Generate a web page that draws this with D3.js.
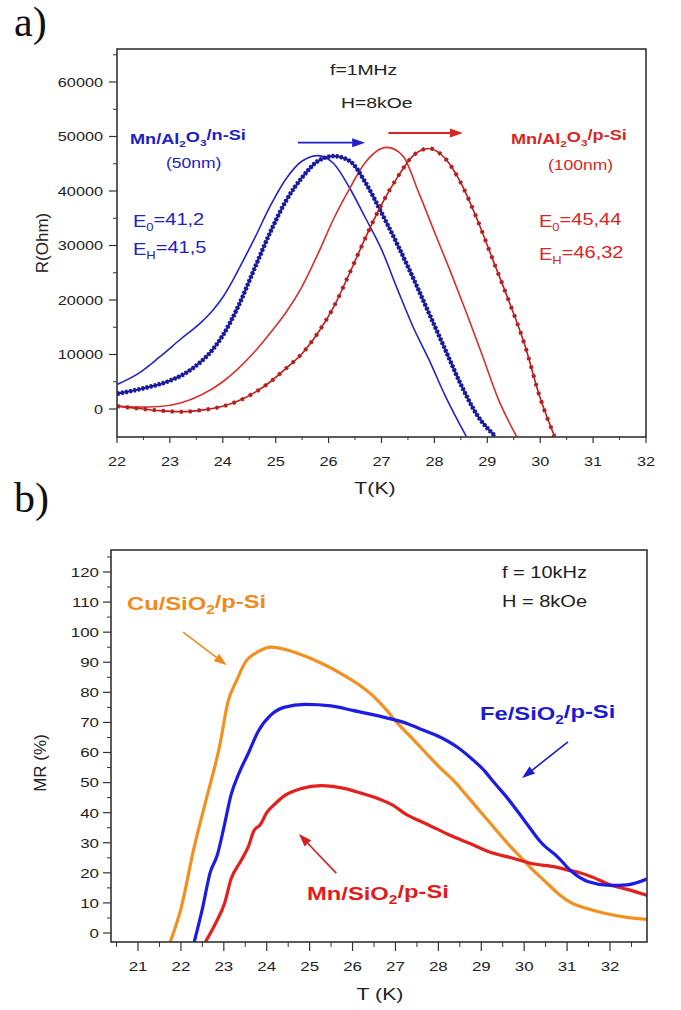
<!DOCTYPE html>
<html>
<head>
<meta charset="utf-8">
<script src="https://cdn.jsdelivr.net/npm/d3@7"></script>
<style>
  html, body { margin: 0; padding: 0; background: #fff; }
  svg { display: block; font-family: "Liberation Sans", Arial, sans-serif; }
</style>
</head>
<body>
<svg id="chart" width="681" height="1010"></svg>
<script>
// panel a: R(Ohm) vs T(K), f=1MHz, H=8kOe
const aXTicks = [22, 23, 24, 25, 26, 27, 28, 29, 30, 31, 32];
const aYTicks = [0, 10000, 20000, 30000, 40000, 50000, 60000];

// [T, R]
const nSiH = [[22, 4500], [22.4, 6500], [22.8, 9500], [23.2, 12800], [23.6, 16000], [23.8, 18000],
  [24, 20500], [24.2, 23800], [24.4, 27500], [24.6, 31300], [24.9, 37300], [25.2, 42300],
  [25.5, 45500], [25.8, 46500], [26.1, 45000], [26.4, 40500], [26.7, 35000], [27, 29300],
  [27.3, 22000], [27.6, 15000], [27.9, 9000], [28.2, 2500], [28.6, -5000]];
const nSi0 = [[22, 2800], [22.5, 3800], [23, 5200], [23.3, 6600], [23.6, 8800], [23.8, 10800],
  [24, 13500], [24.3, 19000], [24.6, 25800], [24.9, 32500], [25.2, 38300], [25.5, 42500],
  [25.8, 45500], [26.1, 46400], [26.4, 45500], [26.7, 41500], [27, 36000], [27.3, 30200],
  [27.6, 24000], [27.9, 17500], [28.2, 11000], [28.5, 4500], [28.8, -1000], [29.15, -5000]];
const pSiH = [[22, 550], [22.4, 350], [22.8, 450], [23.2, 1100], [23.6, 2600], [24, 5000],
  [24.3, 7500], [24.6, 10500], [24.9, 14000], [25.2, 17800], [25.5, 22500], [25.8, 28500],
  [26.1, 35000], [26.4, 40500], [26.7, 45300], [27.1, 48000], [27.4, 46500], [27.7, 39800],
  [28, 32500], [28.3, 25300], [28.6, 17800], [28.9, 10000], [29.2, 2000], [29.55, -5000]];
const pSi0 = [[22, 500], [22.4, 100], [22.8, -300], [23.2, -500], [23.6, -200], [24, 500],
  [24.3, 1500], [24.6, 3000], [24.9, 5000], [25.2, 7500], [25.5, 10200], [25.8, 14000],
  [26.1, 18800], [26.4, 25000], [26.7, 31500], [27, 37500], [27.3, 42500], [27.6, 46500],
  [27.9, 47800], [28.2, 46000], [28.5, 41500], [28.8, 35000], [29.1, 27500], [29.4, 20000],
  [29.7, 12000], [30, 2000], [30.27, -5000]];

// panel b: MR(%) vs T(K), f=10kHz, H=8kOe
const bXTicks = [21, 22, 23, 24, 25, 26, 27, 28, 29, 30, 31, 32];
const bYTicks = [0, 10, 20, 30, 40, 50, 60, 70, 80, 90, 100, 110, 120];

const cuMR = [[21.75, -3], [22, 8], [22.3, 28], [22.6, 45], [22.9, 62], [23.1, 77], [23.3, 84],
  [23.5, 90], [23.8, 93.5], [24.1, 95], [24.5, 94], [24.9, 92], [25.3, 89.5], [25.7, 86.5],
  [26.1, 83], [26.5, 78.5], [26.8, 74], [27, 70.5], [27.3, 66], [27.7, 60], [28, 55.5],
  [28.4, 50], [28.7, 45], [29, 40], [29.3, 35], [29.6, 30], [29.9, 25.5], [30.2, 21],
  [30.5, 17], [30.8, 13], [31.1, 10], [31.5, 8], [31.9, 6.5], [32.4, 5.2], [32.87, 4.5]];
const feMR = [[22.31, -3], [22.5, 8], [22.68, 20], [22.85, 26], [23, 35], [23.17, 46],
  [23.35, 53], [23.58, 60], [23.8, 67], [24.1, 72.5], [24.4, 75], [24.9, 76], [25.5, 75.5],
  [26, 74], [26.5, 72.5], [26.94, 71], [27.3, 69.5], [27.55, 68], [28.06, 65], [28.47, 61.5],
  [28.77, 58], [29.07, 54], [29.3, 50], [29.6, 45], [30, 37.5], [30.4, 30], [30.8, 25],
  [31.1, 20.5], [31.5, 17], [32, 15.8], [32.4, 16], [32.87, 18]];
const mnMR = [[22.57, -3], [22.8, 3], [23.02, 10], [23.17, 18], [23.4, 24], [23.58, 29],
  [23.7, 34], [23.85, 36], [24, 40], [24.2, 43], [24.4, 45.5], [24.8, 48], [25.27, 49],
  [25.83, 48], [26.2, 46.5], [26.54, 45], [26.94, 42.5], [27.24, 39.5], [27.76, 36],
  [28.27, 32.5], [28.78, 29.5], [29.18, 27], [29.7, 25], [30.2, 23], [30.72, 22], [31, 21],
  [31.3, 20], [31.6, 18.5], [32, 16], [32.4, 14.5], [32.87, 12.5]];

const SX = 1.25; // the picture is stretched sideways
const svg = d3.select("#chart");

const aBox = { left: 117, right: 646, top: 49, bottom: 437 };
const bBox = { left: 111, right: 647, top: 550, bottom: 942 };
const aX = d3.scaleLinear().domain([22, 32]).range([117, 646]);
const aY = d3.scaleLinear().domain([0, 60000]).range([409, 82]);
const bX = d3.scaleLinear().domain([21, 32]).range([138, 610]);
const bY = d3.scaleLinear().domain([0, 120]).range([933, 572]);

// text with subscripts: parts = [[str, isSub], ...]
function richText(g, x, y, parts, opt) {
  const t = g.append("text")
    .attr("transform", `translate(${x},${y}) scale(${opt.sx || SX},1)`)
    .attr("font-size", opt.size)
    .attr("font-weight", opt.bold ? "bold" : "normal")
    .attr("fill", opt.color || "#222")
    .attr("text-anchor", opt.anchor || "start");
  let down = false;
  parts.forEach(([s, sub]) => {
    const sp = t.append("tspan").text(s);
    if (sub && !down) { sp.attr("dy", "0.35em").attr("font-size", opt.size * 0.65); down = true; }
    else if (!sub && down) { sp.attr("dy", "-0.35em"); down = false; }
    else if (sub) sp.attr("font-size", opt.size * 0.65);
  });
  return t;
}

function arrow(g, x1, y1, x2, y2, color, width) {
  const ang = Math.atan2(y2 - y1, x2 - x1);
  const len = 13, half = 4.5;
  const bx = x2 - len * Math.cos(ang), by = y2 - len * Math.sin(ang);
  g.append("line").attr("x1", x1).attr("y1", y1).attr("x2", bx).attr("y2", by)
    .attr("stroke", color).attr("stroke-width", width);
  g.append("path")
    .attr("d", `M${x2},${y2} L${bx - half * Math.sin(ang)},${by + half * Math.cos(ang)} L${bx + half * Math.sin(ang)},${by - half * Math.cos(ang)} Z`)
    .attr("fill", color);
}

function drawAxes(g, box, x, y, xt, yt, xMinor, yMinor, o) {
  // y ticks
  yMinor.forEach((v) => {
    g.append("line").attr("x1", box.left - o.yMinorLen).attr("x2", box.left)
      .attr("y1", y(v)).attr("y2", y(v)).attr("stroke", "#333").attr("stroke-width", 1);
  });
  yt.forEach((v) => {
    g.append("line").attr("x1", box.left - o.yMajorLen).attr("x2", box.left)
      .attr("y1", y(v)).attr("y2", y(v)).attr("stroke", "#333").attr("stroke-width", 1.2);
    richText(g, o.yLabelRight, y(v) + o.tickSize * 0.36, [[String(v)]], { size: o.tickSize, anchor: "end", color: "#222" });
  });
  // x ticks
  xMinor.forEach((v) => {
    g.append("line").attr("x1", x(v)).attr("x2", x(v))
      .attr("y1", box.bottom).attr("y2", box.bottom + o.xMinorLen).attr("stroke", "#333").attr("stroke-width", 1);
  });
  xt.forEach((v) => {
    g.append("line").attr("x1", x(v)).attr("x2", x(v))
      .attr("y1", box.bottom).attr("y2", box.bottom + o.xMajorLen).attr("stroke", "#333").attr("stroke-width", 1.2);
    richText(g, x(v), o.xLabelBase, [[String(v)]], { size: o.tickSize, anchor: "middle", color: "#222" });
  });
  g.append("rect").attr("x", box.left).attr("y", box.top)
    .attr("width", box.right - box.left).attr("height", box.bottom - box.top)
    .attr("fill", "none").attr("stroke", "#333").attr("stroke-width", 1.6);
}

function clip(id, box) {
  svg.append("defs").append("clipPath").attr("id", id).append("rect")
    .attr("x", box.left).attr("y", box.top)
    .attr("width", box.right - box.left).attr("height", box.bottom - box.top);
}
clip("clipA", aBox);
clip("clipB", bBox);

// ---------- panel a ----------
const ga = svg.append("g");
ga.append("text").attr("x", 14).attr("y", 36).attr("font-family", "'Liberation Serif', 'Times New Roman', serif")
  .attr("font-size", 42).attr("fill", "#111").text("a)");

const aLine = d3.line().x((d) => aX(d[0])).y((d) => aY(d[1])).curve(d3.curveMonotoneX);
const aPlot = ga.append("g").attr("clip-path", "url(#clipA)");
aPlot.append("path").datum(nSiH).attr("d", aLine).attr("fill", "none").attr("stroke", "#2424c8").attr("stroke-width", 1.6);
aPlot.append("path").datum(pSiH).attr("d", aLine).attr("fill", "none").attr("stroke", "#d83030").attr("stroke-width", 1.6);
aPlot.append("path").datum(nSi0).attr("d", aLine).attr("fill", "none").attr("stroke", "#1a1a9e").attr("stroke-width", 2.2);
aPlot.append("path").datum(nSi0).attr("d", aLine).attr("fill", "none").attr("stroke", "#1a1a9e")
  .attr("stroke-width", 4.5).attr("stroke-dasharray", "2.6 1.6");
aPlot.append("path").datum(pSi0).attr("d", aLine).attr("fill", "none").attr("stroke", "#b81e1e").attr("stroke-width", 1.6);
aPlot.append("path").datum(pSi0).attr("d", aLine).attr("fill", "none").attr("stroke", "#b81e1e")
  .attr("stroke-width", 4).attr("stroke-dasharray", "3 6");

drawAxes(ga, aBox, aX, aY, aXTicks, aYTicks, d3.range(22.5, 32, 1), d3.range(5000, 66000, 10000), {
  yMajorLen: 8, yMinorLen: 4, xMajorLen: 6, xMinorLen: 3, tickSize: 13, yLabelRight: 103, xLabelBase: 466,
});

richText(ga, 375, 494, [["T(K)"]], { size: 17, anchor: "middle" });
ga.append("text").attr("transform", "translate(48,243) rotate(-90)")
  .attr("font-size", 17).attr("text-anchor", "middle").attr("fill", "#222").text("R(Ohm)");

richText(ga, 330, 75, [["f=1MHz"]], { size: 15.5 });
richText(ga, 341, 108, [["H=8kOe"]], { size: 15.5 });

const blueTxt = "#2020c4", redTxt = "#d62626";
richText(ga, 130, 144, [["Mn/Al"], ["2", true], ["O"], ["3", true], ["/n-Si"]], { size: 14.5, bold: true, color: blueTxt });
richText(ga, 166, 168, [["(50nm)"]], { size: 14, color: blueTxt });
richText(ga, 133, 227, [["E"], ["0", true], ["=41,2"]], { size: 16, color: blueTxt });
richText(ga, 133, 255, [["E"], ["H", true], ["=41,5"]], { size: 16, color: blueTxt });

richText(ga, 511, 144, [["Mn/Al"], ["2", true], ["O"], ["3", true], ["/p-Si"]], { size: 14.5, bold: true, color: redTxt });
richText(ga, 548, 170, [["(100nm)"]], { size: 14, color: redTxt });
richText(ga, 539, 227, [["E"], ["0", true], ["=45,44"]], { size: 16, color: redTxt });
richText(ga, 539, 260, [["E"], ["H", true], ["=46,32"]], { size: 16, color: redTxt });

arrow(ga, aX(25.42), aY(48860), aX(26.69), aY(48860), "#2020c4", 1.8);
arrow(ga, aX(27.13), aY(50640), aX(28.54), aY(50640), "#d62626", 1.8);

// ---------- panel b ----------
const gb = svg.append("g");
gb.append("text").attr("x", 14).attr("y", 512).attr("font-family", "'Liberation Serif', 'Times New Roman', serif")
  .attr("font-size", 42).attr("fill", "#111").text("b)");

const bLine = d3.line().x((d) => bX(d[0])).y((d) => bY(d[1])).curve(d3.curveMonotoneX);
const bPlot = gb.append("g").attr("clip-path", "url(#clipB)");
const orange = "#f39020", blue = "#1c1ce4", red = "#e4201e";
bPlot.append("path").datum(cuMR).attr("d", bLine).attr("fill", "none").attr("stroke", orange).attr("stroke-width", 3.2);
bPlot.append("path").datum(mnMR).attr("d", bLine).attr("fill", "none").attr("stroke", red).attr("stroke-width", 3.2);
bPlot.append("path").datum(feMR).attr("d", bLine).attr("fill", "none").attr("stroke", blue).attr("stroke-width", 3.2);

drawAxes(gb, bBox, bX, bY, bXTicks, bYTicks, d3.range(20.5, 33, 1), d3.range(5, 126, 10), {
  yMajorLen: 8, yMinorLen: 4, xMajorLen: 9, xMinorLen: 5, tickSize: 13.5, yLabelRight: 99, xLabelBase: 971,
});

richText(gb, 380, 1000, [["T (K)"]], { size: 17, anchor: "middle" });
gb.append("text").attr("transform", "translate(46,763) rotate(-90)")
  .attr("font-size", 17).attr("text-anchor", "middle").attr("fill", "#222").text("MR (%)");

richText(gb, 502, 578, [["f = 10kHz"]], { size: 16 });
richText(gb, 502, 607, [["H = 8kOe"]], { size: 16 });

richText(gb, 127, 610, [["Cu/SiO"], ["2", true], ["/p-Si"]], { size: 19, bold: true, color: "#f08a1a" });
richText(gb, 480, 720, [["Fe/SiO"], ["2", true], ["/p-Si"]], { size: 19, bold: true, color: "#1b1bd2" });
richText(gb, 307, 900, [["Mn/SiO"], ["2", true], ["/p-Si"]], { size: 19, bold: true, color: "#e01c1c" });

arrow(gb, bX(22.05), bY(100), bX(23.07), bY(89), "#f08a1a", 1.6);
arrow(gb, bX(31.02), bY(63.5), bX(29.95), bY(51.5), "#1b1bd2", 1.6);
arrow(gb, bX(25.62), bY(19.9), bX(24.75), bY(32.9), "#d42020", 1.6);
</script>
</body>
</html>
